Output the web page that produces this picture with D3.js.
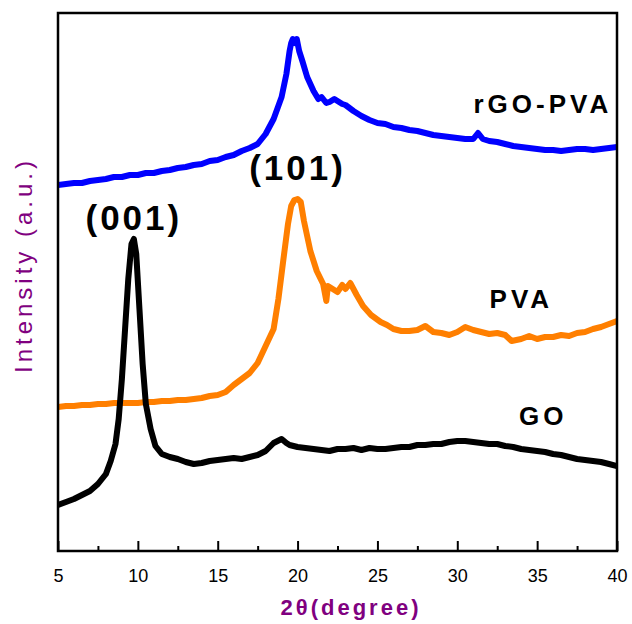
<!DOCTYPE html>
<html>
<head>
<meta charset="utf-8">
<script src="https://cdn.jsdelivr.net/npm/d3@7"></script>
<style>
  body { margin: 0; background: #fff; }
  svg { display: block; font-family: Arial, "Liberation Sans", sans-serif; }
</style>
</head>
<body>
<svg class="svgWrapper" width="632" height="624"></svg>
<script>
// 2theta (degree) and intensity (a.u.)
const rgoAngle = [5, 5.5, 6, 6.5, 7, 7.5, 8, 8.5, 9, 9.5, 10, 10.5, 11, 11.5, 12, 12.5, 13, 13.5, 14, 14.5, 15, 15.5, 16, 16.5, 17, 17.5, 18, 18.5, 19, 19.3, 19.5, 19.6, 19.7, 19.85, 19.95, 20.1, 20.3, 20.6, 21, 21.3, 21.5, 21.8, 22, 22.3, 22.5, 22.8, 23, 23.5, 24, 24.5, 25, 25.5, 26, 26.5, 27, 27.5, 28, 28.5, 29, 29.5, 30, 30.5, 31, 31.3, 31.6, 32, 32.5, 33, 33.5, 34, 34.5, 35, 35.5, 36, 36.5, 37, 37.5, 38, 38.5, 39, 39.5, 40];
const rgoValue = [366, 367, 368, 368, 370, 371, 372, 374, 374, 376, 376, 378, 378, 380, 381, 383, 384, 386, 387, 390, 391, 394, 396, 400, 403, 407, 417, 432, 454, 477, 500, 508, 512, 508, 512, 500, 490, 474, 460, 452, 454, 448, 449, 452, 450, 447, 446, 440, 435, 431, 428, 427, 424, 423, 421, 420, 418, 416, 415, 414, 413, 412, 412, 418, 412, 410, 409, 407, 405, 404, 403, 402, 401, 401, 400, 401, 402, 402, 401, 402, 403, 404];

const pvaAngle = [5, 5.5, 6, 6.5, 7, 7.5, 8, 8.5, 9, 9.5, 10, 10.5, 11, 11.5, 12, 12.5, 13, 13.5, 14, 14.5, 15, 15.5, 16, 16.5, 17, 17.5, 18, 18.5, 18.8, 19.1, 19.4, 19.6, 19.8, 20, 20.2, 20.4, 20.8, 21.2, 21.6, 21.8, 21.9, 22.2, 22.5, 22.8, 23, 23.3, 23.7, 24.1, 24.6, 25.2, 25.6, 26, 26.5, 27, 27.5, 28, 28.5, 29, 29.5, 30, 30.5, 31, 31.5, 32, 32.5, 33, 33.4, 34, 34.5, 35, 35.5, 36, 36.5, 37, 37.5, 38, 38.5, 39, 39.5, 40];
const pvaValue = [144, 145, 145, 146, 146, 147, 147, 148, 148, 148, 148, 149, 149, 150, 150, 151, 151, 152, 153, 155, 156, 159, 166, 172, 178, 188, 205, 222, 252, 290, 327, 345, 351, 352, 349, 330, 300, 280, 267, 250, 265, 262, 259, 266, 262, 268, 256, 245, 236, 229, 226, 222, 220, 220, 221, 225, 219, 218, 216, 219, 224, 221, 219, 217, 218, 216, 210, 212, 215, 212, 214, 214, 216, 215, 218, 219, 222, 224, 227, 230];

const goAngle = [5, 5.5, 6, 6.5, 7, 7.5, 8, 8.3, 8.6, 8.8, 9, 9.2, 9.4, 9.6, 9.75, 9.9, 10.1, 10.3, 10.5, 10.8, 11.1, 11.5, 12, 12.5, 13, 13.5, 14, 14.5, 15, 15.5, 16, 16.5, 17, 17.5, 18, 18.5, 19, 19.3, 19.5, 20, 20.5, 21, 21.5, 22, 22.5, 23, 23.5, 24, 24.5, 25, 25.5, 26, 26.5, 27, 27.5, 28, 28.5, 29, 29.5, 30, 30.5, 31, 31.5, 32, 32.5, 33, 33.5, 34, 34.5, 35, 35.5, 36, 36.5, 37, 37.5, 38, 38.5, 39, 39.5, 40];
const goValue = [46, 49, 52, 56, 60, 67, 77, 90, 107, 132, 172, 222, 272, 307, 312, 297, 242, 187, 147, 122, 105, 97, 94, 92, 89, 87, 88, 90, 91, 92, 93, 92, 94, 96, 100, 108, 112, 108, 106, 104, 103, 102, 101, 100, 102, 102, 103, 101, 103, 102, 102, 103, 104, 104, 106, 106, 107, 107, 109, 110, 110, 109, 108, 107, 107, 105, 104, 102, 101, 100, 99, 97, 96, 94, 92, 91, 90, 89, 87, 85];

const xTicks = [5, 10, 15, 20, 25, 30, 35, 40];
const xMinorTicks = [7.5, 12.5, 17.5, 22.5, 27.5, 32.5, 37.5];

const seriesNames = ['rGO-PVA', 'PVA', 'GO'];
const seriesColors = ['#0000ff', '#ff7f00', '#000000'];
const seriesLabelAt = [[39.7, 438], [36.0, 243], [36.9, 126]];   // [2theta, intensity] of each name
const peakNames = ['(001)', '(101)'];
const peakLabelAt = [[9.75, 321], [20.0, 371]];

const svgObj = d3.select('.svgWrapper');
const plotLeft = 58, plotRight = 617, plotTop = 13, plotBottom = 551;

const xScale = d3.scaleLinear().domain([5, 40]).range([plotLeft, plotRight]);
const yScale = d3.scaleLinear().domain([0, 538]).range([plotBottom, plotTop]);

svgObj.append('defs').append('clipPath').attr('id', 'plotClip')
  .append('rect')
  .attr('x', plotLeft).attr('y', plotTop)
  .attr('width', plotRight - plotLeft).attr('height', plotBottom - plotTop);

const series = [
  d3.zip(rgoAngle, rgoValue),
  d3.zip(pvaAngle, pvaValue),
  d3.zip(goAngle, goValue)
];

const lineGen = d3.line()
  .x(d => xScale(d[0]))
  .y(d => yScale(d[1]));

// curves (GO drawn last, on top)
svgObj.append('g').attr('clip-path', 'url(#plotClip)')
  .selectAll('path')
  .data(series)
  .enter().append('path')
  .attr('d', d => lineGen(d))
  .attr('fill', 'none')
  .attr('stroke', (d, i) => seriesColors[i])
  .attr('stroke-width', 6)
  .attr('stroke-linejoin', 'round');

// bottom axis: ticks point inward
const xAxis = d3.axisBottom(xScale).tickValues(xTicks).tickSizeInner(-10).tickSizeOuter(0).tickPadding(18)
  .tickFormat(d3.format('d'));
const xAxisG = svgObj.append('g').attr('transform', `translate(0,${plotBottom})`).call(xAxis);
xAxisG.select('.domain').remove();
xAxisG.selectAll('line').attr('stroke', '#000').attr('stroke-width', 2);
xAxisG.selectAll('text').attr('font-size', 18).attr('fill', '#000')
  .attr('font-family', 'Arial, "Liberation Sans", sans-serif');

const xMinor = d3.axisBottom(xScale).tickValues(xMinorTicks).tickSizeInner(-5).tickSizeOuter(0).tickFormat('');
const xMinorG = svgObj.append('g').attr('transform', `translate(0,${plotBottom})`).call(xMinor);
xMinorG.select('.domain').remove();
xMinorG.selectAll('line').attr('stroke', '#000').attr('stroke-width', 2);

// frame
svgObj.append('rect')
  .attr('x', plotLeft).attr('y', plotTop)
  .attr('width', plotRight - plotLeft).attr('height', plotBottom - plotTop)
  .attr('fill', 'none').attr('stroke', '#000').attr('stroke-width', 2.5);

// series names
svgObj.selectAll('.seriesName')
  .data(seriesNames)
  .enter().append('text')
  .attr('class', 'seriesName')
  .attr('x', (d, i) => xScale(seriesLabelAt[i][0]))
  .attr('y', (d, i) => yScale(seriesLabelAt[i][1]))
  .attr('text-anchor', 'end')
  .attr('font-size', 26).attr('font-weight', 'bold')
  .attr('letter-spacing', 4)
  .text(d => d);

// peak indices
svgObj.selectAll('.peakName')
  .data(peakNames)
  .enter().append('text')
  .attr('class', 'peakName')
  .attr('x', (d, i) => xScale(peakLabelAt[i][0]))
  .attr('y', (d, i) => yScale(peakLabelAt[i][1]))
  .attr('text-anchor', 'middle')
  .attr('font-size', 35).attr('font-weight', 'bold')
  .attr('letter-spacing', 3)
  .text(d => d);

// axis titles
svgObj.append('text')
  .attr('x', 351).attr('y', 615)
  .attr('text-anchor', 'middle')
  .attr('font-size', 22).attr('font-weight', 'bold')
  .attr('letter-spacing', 3)
  .attr('fill', '#800080')
  .text('2θ(degree)');

svgObj.append('text')
  .attr('transform', 'translate(32,265) rotate(-90)')
  .attr('text-anchor', 'middle')
  .attr('font-size', 24)
  .attr('letter-spacing', 4)
  .attr('fill', '#800080')
  .text('Intensity (a.u.)');
</script>
</body>
</html>
